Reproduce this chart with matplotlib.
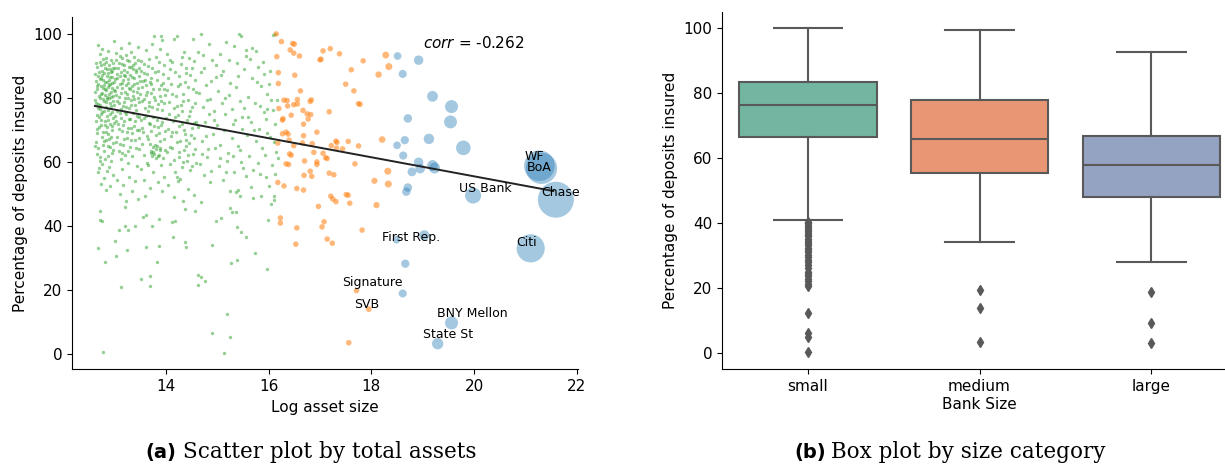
import colorsys
import numpy as np
import matplotlib
matplotlib.use("Agg")
import matplotlib.pyplot as plt
import matplotlib.colors as mcolors

# ---- panel (a): log asset size vs % insured ----
# small banks (green)
small_points = [
    (12.66, 89.5), (12.71, 91.2), (12.75, 88.4), (12.79, 90.6), (12.83, 92.4), (12.86, 88.9), (12.90, 90.1),
    (12.94, 91.8), (12.97, 89.2), (12.72, 93.6), (12.88, 94.5), (12.80, 87.6), (12.93, 87.9), (12.68, 86.8),
    (12.64, 85.1), (12.69, 84.3), (12.73, 86.2), (12.77, 85.4), (12.81, 84.8), (12.85, 86.7), (12.89, 85.6),
    (12.92, 84.1), (12.96, 86.3), (12.99, 85.0), (12.74, 83.7), (12.87, 83.2),
    (12.63, 81.9), (12.67, 82.8), (12.70, 80.6), (12.76, 81.5), (12.78, 83.0), (12.82, 80.9), (12.84, 82.3),
    (12.90, 81.2), (12.95, 82.9), (12.98, 80.4), (12.72, 79.8), (12.86, 79.5), (12.93, 80.1),
    (12.65, 78.4), (12.68, 76.9), (12.71, 77.8), (12.75, 75.6), (12.79, 78.9), (12.83, 77.1), (12.87, 76.2),
    (12.91, 78.3), (12.95, 75.4), (12.99, 77.6), (12.73, 74.8), (12.85, 74.2), (12.97, 73.6),
    (12.64, 72.6), (12.67, 70.3), (12.70, 73.9), (12.74, 71.5), (12.78, 69.4), (12.81, 72.8), (12.85, 70.8),
    (12.88, 68.6), (12.92, 71.9), (12.96, 69.9), (12.99, 72.1), (12.76, 67.8), (12.90, 67.1),
    (12.65, 66.2), (12.69, 64.1), (12.66, 62.3), (12.72, 61.4), (12.77, 65.3), (12.80, 63.2), (12.84, 66.9),
    (12.87, 61.9), (12.91, 64.6), (12.95, 62.7), (12.98, 65.8), (12.75, 59.2), (12.89, 58.4),
    (12.68, 56.6), (12.73, 53.1), (12.79, 54.8), (12.86, 57.2), (12.92, 52.4), (12.97, 55.7), (12.70, 58.1),
    (12.83, 51.2), (12.69, 96.3), (12.99, 97.8), (12.76, 95.2),
    (12.62, 87.3), (12.65, 90.8), (12.67, 83.5), (12.70, 88.1), (12.71, 85.9), (12.73, 90.2), (12.74, 81.2),
    (12.76, 87.1), (12.78, 92.0), (12.79, 84.0), (12.81, 89.3), (12.82, 82.6), (12.84, 91.1), (12.85, 85.0),
    (12.86, 80.3), (12.88, 87.8), (12.89, 83.9), (12.91, 89.0), (12.92, 86.5), (12.94, 81.7), (12.95, 88.4),
    (12.96, 84.7), (12.98, 90.9), (12.99, 82.3), (12.63, 79.1), (12.66, 74.5), (12.69, 78.0), (12.72, 76.3),
    (12.74, 73.0), (12.77, 79.6), (12.80, 75.9), (12.82, 71.4), (12.84, 78.6), (12.87, 73.1), (12.89, 79.9),
    (12.91, 75.0), (12.93, 77.4), (12.96, 71.1), (12.98, 79.0), (12.67, 68.9), (12.70, 70.9), (12.79, 66.3),
    (12.83, 69.2), (12.88, 64.8), (12.94, 67.6), (12.97, 63.5), (12.62, 64.9), (12.71, 60.3), (12.81, 60.8),
    (12.93, 60.1),
    (13.03, 91.6), (13.07, 89.3), (13.11, 93.0), (13.15, 90.4), (13.19, 88.6), (13.24, 91.9), (13.28, 89.7),
    (13.32, 94.2), (13.36, 88.9), (13.41, 90.8), (13.45, 95.9), (13.28, 97.0), (13.13, 95.4), (13.47, 89.1),
    (13.05, 87.5), (13.38, 92.7),
    (13.02, 85.9), (13.06, 83.4), (13.10, 86.8), (13.14, 84.5), (13.18, 87.2), (13.22, 83.9), (13.26, 85.7),
    (13.30, 82.6), (13.34, 86.4), (13.38, 84.1), (13.42, 87.9), (13.46, 83.0), (13.49, 85.3),
    (13.04, 80.7), (13.08, 78.2), (13.12, 81.5), (13.16, 77.3), (13.20, 79.8), (13.24, 81.1), (13.28, 76.6),
    (13.32, 79.2), (13.36, 80.5), (13.40, 77.8), (13.44, 81.8), (13.48, 78.7),
    (13.02, 74.4), (13.07, 71.9), (13.11, 75.3), (13.15, 69.5), (13.19, 72.8), (13.23, 74.9), (13.27, 70.6),
    (13.31, 73.4), (13.35, 68.8), (13.39, 71.2), (13.43, 74.1), (13.47, 69.9), (13.25, 67.5),
    (13.03, 66.1), (13.08, 63.4), (13.12, 60.9), (13.17, 65.2), (13.21, 62.1), (13.26, 59.5), (13.30, 64.6),
    (13.35, 61.7), (13.40, 66.8), (13.44, 58.7), (13.48, 63.8), (13.14, 57.6),
    (13.05, 54.2), (13.10, 49.8), (13.16, 52.6), (13.22, 47.6), (13.29, 55.3), (13.34, 50.9), (13.41, 53.8),
    (13.46, 48.4), (13.20, 45.9),
    (13.01, 89.1), (13.04, 93.8), (13.06, 86.2), (13.09, 90.7), (13.10, 84.1), (13.13, 88.0), (13.14, 92.3),
    (13.17, 85.4), (13.18, 90.1), (13.21, 86.9), (13.22, 93.3), (13.25, 88.1), (13.27, 84.7), (13.29, 91.3),
    (13.31, 87.0), (13.33, 89.5), (13.35, 83.6), (13.37, 90.3), (13.39, 86.0), (13.42, 88.6), (13.44, 84.6),
    (13.46, 91.7), (13.48, 86.6), (13.02, 82.1), (13.05, 78.9), (13.09, 80.2), (13.12, 76.4), (13.15, 82.9),
    (13.18, 78.5), (13.21, 81.9), (13.23, 77.0), (13.26, 80.0), (13.29, 83.1), (13.33, 77.6), (13.36, 82.2),
    (13.39, 79.5), (13.42, 76.2), (13.45, 79.9), (13.49, 81.0), (13.03, 72.7), (13.06, 75.8), (13.09, 70.1),
    (13.13, 73.6), (13.17, 71.3), (13.21, 75.6), (13.24, 69.4), (13.28, 73.2), (13.32, 70.4), (13.36, 75.1),
    (13.40, 72.6), (13.44, 70.0), (13.48, 73.9), (13.06, 67.8), (13.11, 65.6), (13.19, 67.1), (13.27, 63.2),
    (13.33, 66.9), (13.42, 64.3), (13.47, 67.4), (13.15, 62.6),
    (13.52, 91.4), (13.57, 87.6), (13.62, 94.8), (13.66, 89.9), (13.71, 86.2), (13.77, 99.1), (13.80, 92.6),
    (13.85, 88.4), (13.91, 99.3), (13.93, 98.0), (13.88, 95.1), (13.96, 90.3), (13.60, 85.4), (13.74, 96.7),
    (13.53, 83.2), (13.58, 79.6), (13.63, 81.8), (13.68, 77.4), (13.72, 84.1), (13.77, 80.3), (13.82, 76.5),
    (13.86, 82.7), (13.90, 78.9), (13.95, 84.6), (13.99, 80.8), (13.65, 75.8),
    (13.51, 72.9), (13.56, 69.1), (13.61, 74.3), (13.66, 67.2), (13.70, 71.6), (13.75, 73.8), (13.80, 68.4),
    (13.84, 70.9), (13.89, 66.3), (13.93, 72.5), (13.98, 69.7), (13.54, 65.4),
    (13.72, 63.4), (13.75, 64.6), (13.78, 62.5), (13.80, 63.9), (13.83, 64.9), (13.86, 62.1), (13.74, 61.6),
    (13.88, 63.5), (13.70, 65.6), (13.81, 61.2),
    (13.52, 57.8), (13.58, 54.3), (13.63, 59.6), (13.69, 51.9), (13.76, 56.8), (13.84, 53.5), (13.90, 58.9),
    (13.96, 55.1), (13.60, 49.2), (13.93, 50.8),
    (13.51, 88.2), (13.55, 85.1), (13.58, 90.5), (13.62, 83.9), (13.64, 87.3), (13.67, 92.2), (13.69, 84.8),
    (13.73, 89.4), (13.76, 82.7), (13.79, 87.9), (13.83, 85.6), (13.87, 91.0), (13.91, 84.0), (13.94, 87.4),
    (13.97, 82.6), (13.54, 79.0), (13.59, 76.8), (13.62, 80.8), (13.67, 78.6), (13.71, 81.5), (13.74, 77.2),
    (13.79, 79.4), (13.84, 78.0), (13.88, 80.5), (13.92, 76.1), (13.97, 78.2), (13.53, 70.5), (13.58, 73.5),
    (13.63, 68.0), (13.68, 72.2), (13.72, 69.5), (13.77, 71.0), (13.82, 73.0), (13.87, 68.9), (13.91, 71.4),
    (13.96, 67.0), (13.76, 63.1), (13.79, 65.3), (13.84, 61.9), (13.71, 62.8), (13.89, 64.2), (13.57, 62.0),
    (13.66, 59.0), (13.95, 61.0), (13.99, 63.6),
    (14.03, 93.7), (14.08, 88.9), (14.12, 91.2), (14.16, 98.2), (14.21, 99.1), (14.25, 86.9), (14.30, 90.5),
    (14.35, 94.1), (14.40, 87.7), (14.45, 92.3), (14.53, 98.2), (14.50, 89.4), (14.56, 85.6),
    (14.02, 82.4), (14.06, 78.7), (14.11, 84.3), (14.15, 76.9), (14.20, 80.6), (14.24, 83.5), (14.29, 77.8),
    (14.33, 81.2), (14.38, 84.8), (14.43, 79.1), (14.48, 75.7), (14.52, 82.6), (14.57, 78.3),
    (14.01, 73.6), (14.05, 70.2), (14.10, 67.9), (14.14, 72.7), (14.19, 69.3), (14.23, 74.5), (14.28, 66.4),
    (14.32, 71.8), (14.37, 68.5), (14.41, 73.1), (14.46, 65.7), (14.50, 70.6), (14.55, 67.3), (14.59, 72.4),
    (14.03, 62.9), (14.09, 59.4), (14.13, 64.1), (14.18, 56.8), (14.26, 61.3), (14.31, 58.2), (14.36, 63.7),
    (14.42, 60.1), (14.47, 57.4), (14.52, 62.5), (14.58, 59.7), (14.22, 55.3), (14.39, 64.9),
    (14.05, 52.6), (14.15, 48.9), (14.24, 53.9), (14.34, 47.8), (14.44, 51.4), (14.54, 49.6), (14.28, 54.7),
    (14.04, 86.0), (14.09, 91.9), (14.13, 81.0), (14.18, 88.0), (14.22, 77.5), (14.27, 84.3), (14.31, 92.6),
    (14.34, 79.0), (14.39, 89.2), (14.44, 83.4), (14.47, 87.1), (14.51, 77.1), (14.55, 91.3), (14.58, 81.9),
    (14.07, 74.9), (14.12, 69.1), (14.17, 73.9), (14.21, 66.0), (14.26, 71.0), (14.31, 75.8), (14.36, 70.0),
    (14.40, 66.9), (14.45, 74.2), (14.49, 68.3), (14.54, 72.0), (14.08, 64.6), (14.16, 60.6), (14.25, 63.0),
    (14.33, 59.9), (14.43, 62.0), (14.50, 58.6), (14.57, 64.0), (14.68, 87.9), (14.73, 93.4), (14.80, 79.2),
    (14.87, 85.1), (14.93, 72.9), (14.98, 90.2), (14.70, 62.4), (14.78, 68.0), (14.85, 75.0), (14.95, 64.4),
    (14.62, 94.3), (14.69, 99.8), (14.75, 89.1), (14.84, 96.9), (14.90, 91.7), (14.97, 86.4), (15.05, 93.5),
    (15.12, 88.2), (15.18, 97.4), (15.24, 84.6), (15.32, 96.1), (15.42, 99.9), (15.47, 99.1), (15.38, 90.8),
    (14.64, 81.5), (14.72, 77.2), (14.79, 83.9), (14.86, 79.6), (14.94, 75.8), (15.01, 82.1), (15.09, 78.4),
    (15.16, 74.9), (15.22, 80.7), (15.29, 76.3), (15.36, 83.2), (15.44, 78.9), (15.49, 73.8),
    (14.63, 70.8), (14.70, 66.4), (14.77, 72.5), (14.83, 63.9), (14.91, 68.7), (14.99, 71.3), (15.06, 65.2),
    (15.14, 69.8), (15.21, 62.6), (15.28, 67.4), (15.35, 72.9), (15.41, 64.8), (15.48, 70.1),
    (14.66, 59.3), (14.74, 55.8), (14.81, 61.4), (14.88, 57.1), (15.03, 58.6), (15.11, 54.2), (15.19, 60.3),
    (15.33, 56.7), (15.46, 59.8),
    (15.08, 87.0), (15.15, 80.0), (15.23, 91.7), (15.31, 71.6), (15.40, 86.7), (15.45, 63.5), (15.52, 89.0),
    (15.60, 74.0), (15.67, 95.5), (15.72, 69.9), (15.78, 85.0), (15.84, 77.3), (15.90, 91.0), (15.96, 68.8),
    (16.03, 88.2), (16.10, 66.0), (16.16, 79.3), (15.05, 61.0), (15.17, 56.8), (15.30, 61.6), (15.50, 58.0),
    (15.65, 52.2), (15.83, 56.0), (16.01, 52.5),
    (15.56, 94.9), (15.76, 94.5), (15.56, 93.0), (15.63, 92.0), (15.80, 89.7), (16.08, 99.7), (16.13, 99.9),
    (15.92, 87.3), (15.68, 86.1), (16.00, 84.3), (15.86, 83.7), (15.97, 81.1), (16.09, 76.0), (15.92, 75.6),
    (15.97, 76.5), (15.60, 80.2), (15.73, 78.3), (16.05, 79.4), (15.53, 76.8), (15.66, 72.4), (15.82, 70.1),
    (15.95, 73.3), (16.12, 71.6), (15.58, 68.2), (15.75, 66.5), (15.88, 64.3), (16.02, 67.8), (16.15, 63.1),
    (15.61, 61.7), (15.79, 59.6), (15.93, 62.2), (16.07, 58.9), (15.70, 57.3), (16.18, 61.0),
    (12.77, 0.5), (13.12, 20.8), (13.51, 23.3), (13.70, 21.2), (13.70, 24.3), (14.63, 24.6), (14.69, 23.9),
    (14.76, 22.8), (14.63, 21.4), (14.89, 6.5), (15.19, 12.4), (15.25, 5.2), (15.13, 0.1), (15.27, 28.3),
    (15.38, 29.3), (15.73, 31.4), (15.97, 26.4), (12.82, 28.5), (13.03, 30.4), (12.69, 33.0), (13.25, 32.5),
    (13.61, 33.3), (13.82, 28.6), (13.86, 33.7), (14.40, 33.3), (14.38, 34.8), (14.90, 34.0), (13.02, 35.3),
    (12.72, 44.7), (12.72, 41.8), (12.76, 41.3), (13.20, 39.8), (13.08, 38.7), (13.27, 38.7), (13.40, 40.0),
    (13.56, 42.7), (13.61, 43.4), (13.73, 39.8), (13.86, 42.0), (14.12, 41.0), (14.17, 41.3), (14.14, 36.4),
    (14.38, 45.2), (14.56, 44.7), (14.68, 47.3), (14.86, 53.5), (14.97, 41.3), (15.08, 42.4), (15.25, 45.5),
    (15.28, 44.4), (15.37, 44.1), (15.38, 39.5), (15.46, 38.0), (15.56, 36.3), (15.25, 50.7), (15.36, 50.4),
    (15.40, 51.2), (15.45, 49.3), (15.56, 55.6), (15.70, 48.6), (15.86, 49.1), (15.95, 55.2), (15.99, 41.6),
    (16.12, 56.2), (16.11, 49.3), (16.10, 48.1), (16.05, 46.8),
]

# medium banks (orange)
medium_points = [
    (16.15, 99.9), (16.25, 97.5), (16.47, 96.9), (16.50, 96.7), (16.42, 94.9), (16.49, 93.9), (16.60, 93.0),
    (16.16, 92.8), (16.19, 87.8), (16.51, 87.0), (16.19, 84.4), (16.62, 82.1), (16.30, 79.2), (16.36, 79.1),
    (16.56, 79.4), (16.81, 78.8), (16.83, 79.3), (16.37, 77.4), (16.49, 77.8), (16.56, 78.0), (16.20, 76.6),
    (16.67, 76.0), (16.82, 74.7), (16.75, 74.9), (16.44, 74.5), (16.28, 73.4), (16.77, 73.3), (16.27, 73.0),
    (16.68, 71.7), (16.34, 69.2), (16.38, 68.6), (16.27, 68.7), (16.94, 69.2), (16.68, 68.1), (16.40, 66.7),
    (16.18, 65.8), (16.49, 65.0), (16.66, 65.8), (16.85, 65.6), (16.41, 62.4), (16.44, 62.0), (16.88, 62.9),
    (16.34, 59.3), (16.39, 59.1), (16.70, 60.2), (16.94, 59.9), (16.94, 59.1), (16.81, 57.0), (16.69, 55.7),
    (16.84, 55.4), (16.18, 53.5), (16.30, 52.4), (16.55, 51.6), (16.68, 51.1), (16.97, 46.0), (16.23, 42.4),
    (16.23, 40.8), (16.55, 39.3), (16.53, 34.2), (17.00, 91.8),
    (17.06, 94.6), (17.20, 95.3), (17.02, 92.0), (17.38, 93.7), (17.84, 91.5), (18.28, 93.3), (18.34, 89.7),
    (18.14, 87.2), (17.61, 88.7), (17.50, 84.2), (17.66, 82.1), (17.75, 78.1), (17.78, 77.9), (17.18, 75.6),
    (17.31, 66.4), (17.33, 66.0), (17.55, 66.3), (18.21, 66.9), (17.75, 64.9), (17.22, 65.0), (17.32, 64.2),
    (17.44, 64.0), (17.06, 62.6), (17.11, 61.2), (17.14, 61.0), (17.68, 59.3), (17.18, 56.4), (17.27, 55.9),
    (18.32, 57.0), (18.06, 54.0), (18.33, 53.0), (17.51, 49.7), (17.55, 49.5), (17.21, 49.2), (17.25, 48.3),
    (17.31, 47.5), (17.58, 47.0), (18.10, 46.4), (17.08, 41.2), (17.04, 39.6), (17.82, 38.6), (17.14, 35.8),
    (17.24, 34.5), (17.56, 3.4),
]

# large banks (blue)
large_points = [
    (18.51, 93.0), (18.92, 91.7), (18.61, 87.4), (19.19, 80.4), (19.56, 77.2), (19.54, 72.4), (18.71, 73.5),
    (18.65, 66.7), (18.50, 65.1), (19.12, 67.1), (19.79, 64.3), (18.62, 61.9), (18.92, 59.8), (18.79, 56.8),
    (18.95, 57.8), (19.19, 58.8), (19.23, 58.0), (18.71, 51.9), (18.68, 50.6), (19.03, 37.0), (18.66, 28.1),
    (18.61, 18.8),
]

# banks with a name tag
bank_names = ["WF", "BoA", "Chase", "Citi", "US Bank", "First Rep.", "Signature", "SVB", "BNY Mellon", "State St"]
bank_x = [21.27, 21.31, 21.59, 21.10, 19.98, 18.49, 17.71, 17.95, 19.56, 19.29]
bank_y = [58.7, 57.9, 48.1, 32.9, 49.4, 35.6, 19.7, 13.9, 9.6, 3.1]
bank_group = ["large", "large", "large", "large", "large", "large", "medium", "medium", "large", "large"]
# tag offsets in pixels
tag_dy = [9.3, 1.0, 7.3, 6.3, 6.7, 2.3, 7.7, 5.0, 9.3, 9.7]

fit_slope = -2.98
fit_intercept = 115.0
corr_value = -0.262

# ---- panel (b): box plot stats ----
categories = ["small", "medium", "large"]
box_low = [40.8, 34.0, 27.8]
box_q1 = [66.3, 55.3, 48.1]
box_med = [76.4, 65.8, 57.8]
box_q3 = [83.3, 77.9, 66.6]
box_high = [100.0, 99.3, 92.6]
fliers_small = [40.4, 39.9, 39.4, 38.8, 38.2, 37.6, 37.0, 36.4, 35.8, 35.1, 34.5, 33.8, 33.1, 32.4, 31.6,
                30.9, 30.1, 29.4, 28.7, 28.0, 27.0, 26.1, 25.0, 24.2, 23.5, 22.8, 22.0, 21.3, 20.7,
                12.3, 6.2, 4.9, 0.1]
fliers_medium = [19.4, 13.7, 3.3]
fliers_large = [18.6, 9.3, 3.1]


def desaturate(c, prop):
    h, l, s = colorsys.rgb_to_hls(*mcolors.to_rgb(c))
    return colorsys.hls_to_rgb(h, l, s * prop)


fig = plt.figure(figsize=(12.25, 4.66), dpi=100)
ax1 = fig.add_axes([0.0590, 0.2075, 0.4128, 0.7554])
ax2 = fig.add_axes([0.5894, 0.2075, 0.4204, 0.7674])

sx, sy = np.array(small_points).T
mx, my = np.array(medium_points).T
lx, ly = np.array(large_points).T
bx = np.array(bank_x)
by = np.array(bank_y)
is_med = np.array([g == "medium" for g in bank_group])
mx = np.concatenate([mx, bx[is_med]])
my = np.concatenate([my, by[is_med]])
lx = np.concatenate([lx, bx[~is_med]])
ly = np.concatenate([ly, by[~is_med]])

# marker area follows total assets
def asset_area(x):
    return 671 * np.exp(np.asarray(x) - 21.59)

ax1.scatter(sx, sy, s=6, color="tab:green", alpha=0.5, linewidths=0)
ax1.scatter(mx, my, s=np.maximum(asset_area(mx), 16), color="tab:orange", alpha=0.55, linewidths=0)
ax1.scatter(lx, ly, s=asset_area(lx), color="tab:blue", alpha=0.4, linewidths=0)

all_x = np.concatenate([sx, mx, lx])
xx = np.linspace(all_x.min(), all_x.max() - 0.05, 50)
ax1.plot(xx, fit_slope * xx + fit_intercept, color="#222222", lw=1.4)

for name, x, y, dy in zip(bank_names, bank_x, bank_y, tag_dy):
    ax1.annotate(name, (x, y), xytext=(-14.5, dy), textcoords="offset pixels",
                 ha="left", va="center", fontsize=9)

ax1.text(19.0, 97.0, r"$corr$ = %.3f" % corr_value, fontsize=11, ha="left", va="center")
ax1.set_xlim(12.18, 22.02)
ax1.set_ylim(-4.9, 105.1)
ax1.set_xticks([14, 16, 18, 20, 22])
ax1.set_yticks([0, 20, 40, 60, 80, 100])
ax1.set_xlabel("Log asset size", fontsize=11)
ax1.set_ylabel("Percentage of deposits insured", fontsize=11)

# box plot
palette = [desaturate(c, 0.75) for c in ["#66c2a5", "#fc8d62", "#8da0cb"]]
gray = "#595959"
fliers = [fliers_small, fliers_medium, fliers_large]
stats = []
for i in range(3):
    stats.append(dict(med=box_med[i], q1=box_q1[i], q3=box_q3[i], whislo=box_low[i],
                      whishi=box_high[i], fliers=fliers[i]))
bp = ax2.bxp(stats, positions=[0, 1, 2], widths=0.8, capwidths=0.4, patch_artist=True,
             boxprops=dict(edgecolor=gray, linewidth=1.5),
             whiskerprops=dict(color=gray, linewidth=1.5),
             capprops=dict(color=gray, linewidth=1.5),
             medianprops=dict(color=gray, linewidth=1.5),
             flierprops=dict(marker="d", markerfacecolor=gray, markeredgecolor=gray,
                             markersize=5, linestyle="none"))
for patch, c in zip(bp["boxes"], palette):
    patch.set_facecolor(c)

ax2.set_xlim(-0.5, 2.5)
ax2.set_ylim(-5.1, 105.0)
ax2.set_xticks([0, 1, 2])
ax2.set_xticklabels(categories)
ax2.set_yticks([0, 20, 40, 60, 80, 100])
ax2.set_xlabel("Bank Size", fontsize=11, labelpad=2)
ax2.set_ylabel("Percentage of deposits insured", fontsize=11)

for ax in (ax1, ax2):
    ax.spines["top"].set_visible(False)
    ax.spines["right"].set_visible(False)
    ax.tick_params(labelsize=11)

# captions
cap_y = 1 - 458 / 466
fig.text(176 / 1225, cap_y, "(a)", fontsize=14, fontweight="bold", family="DejaVu Sans",
         ha="right", va="baseline")
fig.text(183 / 1225, cap_y, "Scatter plot by total assets", fontsize=15.5, family="DejaVu Serif",
         ha="left", va="baseline")
fig.text(826 / 1225, cap_y, "(b)", fontsize=14, fontweight="bold", family="DejaVu Sans",
         ha="right", va="baseline")
fig.text(831 / 1225, cap_y, "Box plot by size category", fontsize=15.5, family="DejaVu Serif",
         ha="left", va="baseline")

fig.savefig("out.png", dpi=100)
